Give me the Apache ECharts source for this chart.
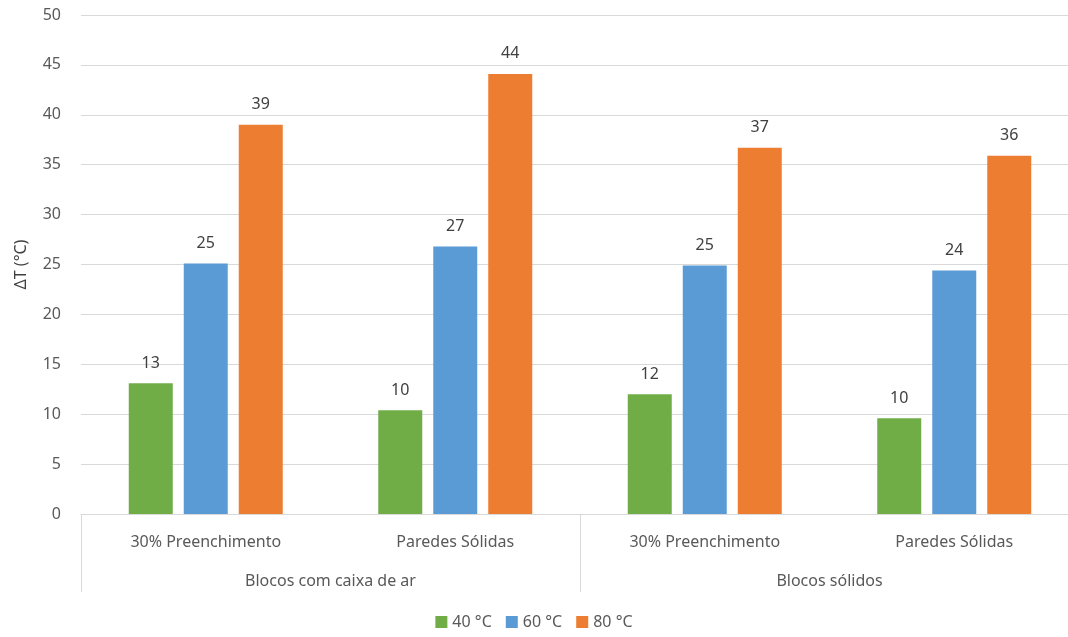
<!DOCTYPE html>
<html>
<head>
<meta charset="utf-8">
<title>chart</title>
<script src="https://cdn.jsdelivr.net/npm/echarts@6/dist/echarts.min.js"></script>
<style>
  html, body { margin: 0; padding: 0; background: #fff; }
  #c { width: 1068px; height: 637px; }
</style>
</head>
<body>
<div id="c"></div>
<script>
// categorias
var subCats = ['30% Preenchimento', 'Paredes Sólidas', '30% Preenchimento', 'Paredes Sólidas'];
var groups = ['Blocos com caixa de ar', 'Blocos sólidos'];
var t40 = [13.1, 10.4, 12.0, 9.6];
var t60 = [25.1, 26.8, 24.9, 24.4];
var t80 = [39.0, 44.1, 36.7, 35.9];
var names = ['40 °C', '60 °C', '80 °C'];
var colors = ['#70AD47', '#5B9BD5', '#ED7D31'];

var font = 'Noto Sans';
var txt = '#595959';

function bar(name, data, color) {
  return {
    name: name,
    type: 'bar',
    data: data,
    barWidth: 44,
    barGap: '25%',
    itemStyle: { color: color },
    label: {
      show: true,
      position: 'top',
      distance: 12,
      color: '#404040',
      fontFamily: font,
      fontSize: 16,
      formatter: function (p) { return Math.round(p.value); }
    }
  };
}

var option = {
  backgroundColor: '#fff',
  color: colors,
  grid: { left: 81, width: 998, top: 15, bottom: 123, outerBoundsMode: 'none' },
  legend: {
    bottom: 2,
    left: 'center',
    itemWidth: 12,
    itemHeight: 12,
    itemGap: 14,
    icon: 'rect',
    textStyle: { color: txt, fontFamily: font, fontSize: 16 },
    data: names
  },
  xAxis: [{
    type: 'category',
    data: subCats,
    axisLine: { lineStyle: { color: '#d9d9d9', width: 1 } },
    axisTick: { show: false },
    axisLabel: { color: txt, fontFamily: font, fontSize: 16, margin: 20, interval: 0 }
  }, {
    type: 'category',
    data: groups,
    position: 'bottom',
    axisLine: { show: false },
    axisTick: { show: true, length: 78, interval: 0, lineStyle: { color: '#d9d9d9' } },
    axisLabel: { color: txt, fontFamily: font, fontSize: 16, margin: 59, interval: 0 }
  }],
  yAxis: {
    type: 'value',
    min: 0,
    max: 50,
    interval: 5,
    name: 'ΔT (°C)',
    nameLocation: 'middle',
    nameGap: 52,
    nameTextStyle: { color: '#404040', fontFamily: font, fontSize: 16 },
    axisLine: { show: false },
    axisTick: { show: false },
    axisLabel: { color: txt, fontFamily: font, fontSize: 16, margin: 20 },
    splitLine: { lineStyle: { color: '#d9d9d9', width: 1 } }
  },
  series: [
    bar(names[0], t40, colors[0]),
    bar(names[1], t60, colors[1]),
    bar(names[2], t80, colors[2])
  ]
};

var chart = echarts.init(document.getElementById('c'));
chart.setOption(option);
</script>
</body>
</html>
